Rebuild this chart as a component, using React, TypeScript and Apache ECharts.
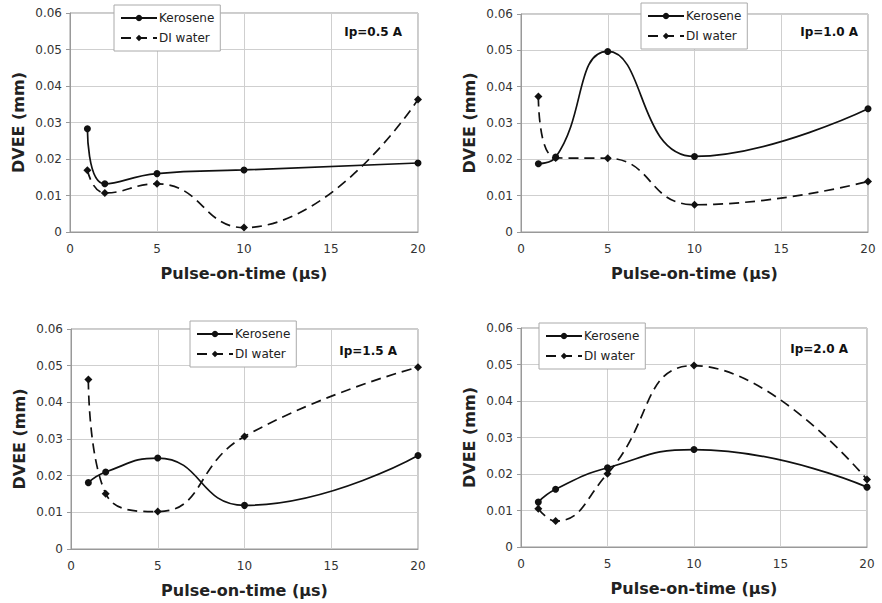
import React, { useEffect, useRef } from "react";
import * as echarts from "echarts";

const pulseOnTime = [1, 2, 5, 10, 20];
const xTicks = [0, 5, 10, 15, 20];
const yTicks = [0, 0.01, 0.02, 0.03, 0.04, 0.05, 0.06];
const panelLabels = ["Ip=0.5 A", "Ip=1.0 A", "Ip=1.5 A", "Ip=2.0 A"];

const kerosene05 = [0.0283, 0.0132, 0.016, 0.017, 0.0189];
const water05 = [0.0169, 0.0107, 0.0132, 0.0012, 0.0363];
const kerosene10 = [0.0188, 0.0206, 0.0497, 0.0208, 0.0339];
const water10 = [0.0373, 0.0204, 0.0203, 0.0075, 0.0139];
const kerosene15 = [0.0181, 0.021, 0.0248, 0.0119, 0.0255];
const water15 = [0.0462, 0.0151, 0.0102, 0.0307, 0.0496];
const kerosene20 = [0.0123, 0.0158, 0.0217, 0.0267, 0.0164];
const water20 = [0.0105, 0.0071, 0.0201, 0.0497, 0.0185];

const keroseneSets = [kerosene05, kerosene10, kerosene15, kerosene20];
const waterSets = [water05, water10, water15, water20];

const grids = [
  { left: 70, top: 13, width: 348, height: 219 },
  { left: 521, top: 14, width: 347, height: 218 },
  { left: 71, top: 329, width: 347, height: 220 },
  { left: 521, top: 328, width: 346, height: 219 },
];
const legendPos = [
  { left: 114, top: 5 },
  { left: 641, top: 3 },
  { left: 190, top: 321 },
  { left: 539, top: 323 },
];
const labelPos = [
  { right: 882 - 402, y: 33 },
  { right: 882 - 858, y: 33 },
  { right: 882 - 397, y: 352 },
  { right: 882 - 848, y: 350 },
];

const FONT = "DejaVu Sans, Liberation Sans, Arial, sans-serif";

export default function App() {
  const ref = useRef<HTMLDivElement>(null);
  useEffect(() => {
    if (!ref.current) return;
    const chart = echarts.init(ref.current, undefined, { renderer: "svg" });
    const xAxis: any[] = [];
    const yAxis: any[] = [];
    const series: any[] = [];
    const legend: any[] = [];
    const graphic: any[] = [];
    grids.forEach((g, i) => {
      xAxis.push({
        type: "value",
        gridIndex: i,
        min: xTicks[0],
        max: xTicks[xTicks.length - 1],
        interval: 5,
        name: "Pulse-on-time (µs)",
        nameLocation: "middle",
        nameGap: 33,
        nameTextStyle: { fontFamily: FONT, fontSize: 16, fontWeight: "bold", color: "#222" },
        axisLine: { show: true, lineStyle: { color: "#999", width: 1 } },
        axisTick: { show: false },
        axisLabel: { fontFamily: FONT, fontSize: 12, color: "#333", margin: 11 },
        splitLine: { show: true, lineStyle: { color: "#cfcfcf", width: 1 } },
      });
      yAxis.push({
        type: "value",
        gridIndex: i,
        min: yTicks[0],
        max: yTicks[yTicks.length - 1],
        interval: 0.01,
        name: "DVEE (mm)",
        nameLocation: "middle",
        nameGap: 44,
        nameTextStyle: {
          fontFamily: FONT,
          fontSize: 16,
          fontWeight: "bold",
          color: "#222",
        },
        axisLine: { show: true, lineStyle: { color: "#999", width: 1 } },
        axisTick: { show: true, length: 4, inside: false, lineStyle: { color: "#999" } },
        axisLabel: {
          fontFamily: FONT,
          fontSize: 12,
          color: "#333",
          margin: 8,
          formatter: (v: number) => (v === 0 ? "0" : v.toFixed(2)),
        },
        splitLine: { show: true, lineStyle: { color: "#cfcfcf", width: 1 } },
      });
      const kName = "Kerosene";
      const wName = "DI water";
      series.push({
        type: "line",
        name: kName,
        xAxisIndex: i,
        yAxisIndex: i,
        data: pulseOnTime.map((x, j) => [x, keroseneSets[i][j]]),
        smooth: 0.5,
        symbol: "circle",
        symbolSize: 7,
        lineStyle: { color: "#111", width: 1.7 },
        itemStyle: { color: "#111" },
      });
      series.push({
        type: "line",
        name: wName,
        xAxisIndex: i,
        yAxisIndex: i,
        data: pulseOnTime.map((x, j) => [x, waterSets[i][j]]),
        smooth: 0.5,
        symbol: "diamond",
        symbolSize: 8,
        lineStyle: { color: "#111", width: 1.7, type: [10, 6] },
        itemStyle: { color: "#111" },
      });
      legend.push({
        show: true,
        orient: "vertical",
        left: legendPos[i].left,
        top: legendPos[i].top,
        data: [kName, wName],
        itemWidth: 36,
        itemHeight: 8,
        itemGap: 8,
        padding: [7, 6, 7, 6],
        backgroundColor: "#fff",
        borderColor: "#aaa",
        borderWidth: 1,
        borderRadius: 0,
        textStyle: { fontFamily: FONT, fontSize: 12, color: "#222", padding: [0, 0, 0, -3] },
        selectedMode: false,
      });
      graphic.push({
        type: "text",
        right: labelPos[i].right,
        top: labelPos[i].y - 7,
        style: {
          text: panelLabels[i],
          font: `bold 12px ${FONT}`,
          fill: "#111",
        },
      });
    });
    chart.setOption({
      animation: false,
      backgroundColor: "#fff",
      grid: grids.map((g) => ({ ...g, show: true, borderColor: "#999", borderWidth: 1, backgroundColor: "transparent" })),
      xAxis,
      yAxis,
      series,
      legend,
      graphic,
    });
    return () => chart.dispose();
  }, []);
  return (
    <div
      ref={ref}
      style={{ position: "fixed", left: 0, top: 0, width: 882, height: 603, background: "#fff" }}
    />
  );
}
